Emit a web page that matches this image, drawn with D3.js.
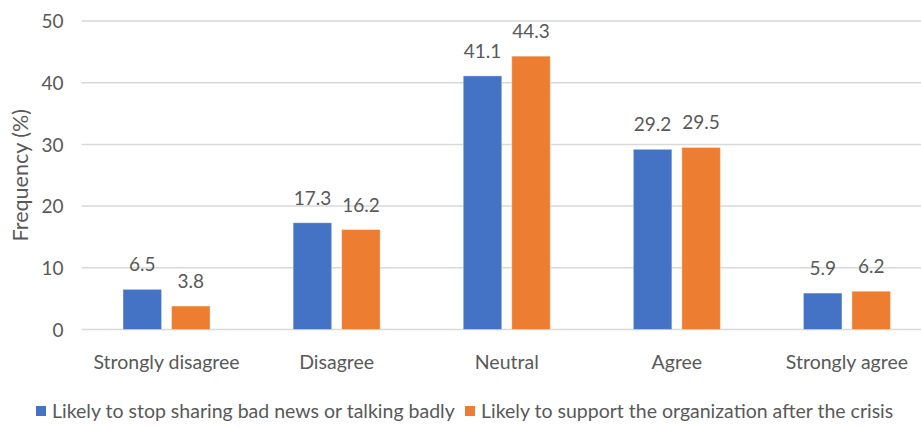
<!DOCTYPE html>
<html>
<head>
<meta charset="utf-8">
<script src="https://cdn.jsdelivr.net/npm/d3@7/dist/d3.min.js"></script>
<style>
  html, body { margin: 0; padding: 0; background: #fff; }
  svg { display: block; }
  text { font-family: Lato, "Open Sans", sans-serif; fill: #595959; }
</style>
</head>
<body>
<svg id="chart" width="921" height="427"></svg>
<script>
const categories = ["Strongly disagree", "Disagree", "Neutral", "Agree", "Strongly agree"];
const seriesNames = [
  "Likely to stop sharing bad news or talking badly",
  "Likely to support the organization after the crisis"
];
const stopSharing = [6.5, 17.3, 41.1, 29.2, 5.9];
const supportOrg = [3.8, 16.2, 44.3, 29.5, 6.2];
const yTicks = [0, 10, 20, 30, 40, 50];
const colors = ["#4472C4", "#ED7D31"];

const series = [stopSharing, supportOrg];

(function draw() {
  const svg = d3.select("#chart");
  const W = 921;
  const plotLeft = 81.5, plotRight = 932, plotTop = 21, plotBottom = 329.5;

  const x = d3.scaleBand().domain(categories).range([plotLeft, plotRight]).padding(0);
  const y = d3.scaleLinear().domain([0, 50]).range([plotBottom, plotTop]);

  const barW = 38.5, barGap = 10;
  const groupW = 2 * barW + barGap;

  // gridlines
  svg.append("g").selectAll("line").data(yTicks).join("line")
    .attr("x1", plotLeft).attr("x2", W)
    .attr("y1", d => y(d)).attr("y2", d => y(d))
    .attr("stroke", "#D9D9D9").attr("stroke-width", 1.5);

  // y axis labels
  const yAxis = d3.axisLeft(y).tickValues(yTicks).tickSize(0).tickPadding(0);
  const ya = svg.append("g").attr("transform", `translate(${plotLeft - 18},0)`).call(yAxis);
  ya.select(".domain").remove();
  ya.selectAll("text").attr("font-size", 19).attr("font-family", "Lato, sans-serif").attr("fill", "#595959").attr("dy", "0.35em");

  // y title
  svg.append("text")
    .attr("transform", `translate(28,${(plotTop + plotBottom) / 2}) rotate(-90)`)
    .attr("text-anchor", "middle")
    .attr("font-size", 21.5)
    .text("Frequency (%)");

  // bars and value labels
  series.forEach((vals, si) => {
    const g = svg.append("g");
    const offs = si * (barW + barGap);
    const bx = c => x(c) + (x.bandwidth() - groupW) / 2 + offs;
    g.selectAll("rect").data(categories).join("rect")
      .attr("x", bx)
      .attr("y", (c, i) => y(vals[i]))
      .attr("width", barW)
      .attr("height", (c, i) => y(0) - y(vals[i]))
      .attr("fill", colors[si])
      .attr("stroke", "rgba(255,255,255,0.35)")
      .attr("stroke-width", 1);
    g.selectAll("text").data(categories).join("text")
      .attr("x", c => bx(c) + barW / 2)
      .attr("y", (c, i) => y(vals[i]) - 18)
      .attr("text-anchor", "middle")
      .attr("font-size", 19)
      .text((c, i) => vals[i].toFixed(1));
  });

  // x axis labels
  const xAxis = d3.axisBottom(x).tickSize(0).tickPadding(0);
  const xa = svg.append("g").attr("transform", `translate(0,${plotBottom + 33})`).call(xAxis);
  xa.select(".domain").remove();
  xa.selectAll("text").attr("font-size", 19.5).attr("font-family", "Lato, sans-serif").attr("fill", "#595959").attr("dy", "0.35em");

  // legend
  const legend = svg.append("g");
  const legY = 411;
  const items = [
    { name: seriesNames[0], color: colors[0], sx: 36, tx: 52 },
    { name: seriesNames[1], color: colors[1], sx: 465, tx: 481 }
  ];
  items.forEach(it => {
    legend.append("rect").attr("x", it.sx).attr("y", legY - 5).attr("width", 10).attr("height", 10).attr("fill", it.color);
    legend.append("text").attr("x", it.tx).attr("y", legY).attr("dy", "0.35em").attr("font-size", 19.5).text(it.name);
  });
})();
</script>
</body>
</html>
